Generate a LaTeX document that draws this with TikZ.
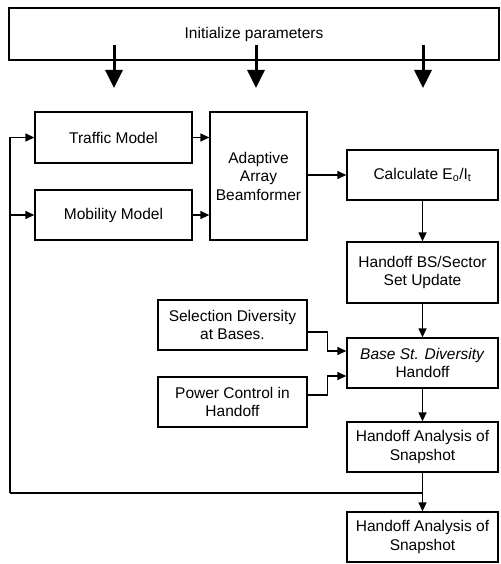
\documentclass[tikz,border=0pt]{standalone}
\usepackage{fontspec}
\setmainfont{Liberation Sans}
\usetikzlibrary{arrows.meta}
\begin{document}
\begin{tikzpicture}[x=1pt,y=-1pt,
  box/.style={draw, line width=1.3pt, inner sep=2pt, align=center,
    font=\fontsize{15.5}{18.5}\selectfont},
  arr/.style={line width=1.3pt, -{Triangle[length=9pt,width=8pt]}},
  bigarr/.style={line width=3pt, -{Triangle[length=18pt,width=17pt]}},
  ln/.style={line width=1.3pt}]
\useasboundingbox (0,0) rectangle (500,564);
\node[box, minimum width=490pt, minimum height=52pt] (init) at (254,34) {Initialize parameters};
\node[box, minimum width=157pt, minimum height=51pt] (traffic) at (113.5,137.5) {Traffic Model};
\node[box, minimum width=157pt, minimum height=50pt] (mobility) at (113.5,215) {Mobility Model};
\node[box, minimum width=97pt, minimum height=128pt] (beam) at (258.5,176) {Adaptive\\Array\\Beamformer};
\node[box, minimum width=151pt, minimum height=50pt] (calc) at (422.5,175) {Calculate E\textsubscript{o}/I\textsubscript{t}};
\node[box, minimum width=151pt, minimum height=61pt] (bsset) at (422.5,272.5) {Handoff BS/Sector\\Set Update};
\node[box, minimum width=151pt, minimum height=50pt] (base) at (422.5,363) {\textit{Base St. Diversity}\\Handoff};
\node[box, minimum width=151pt, minimum height=50pt] (ha1) at (422.5,447) {Handoff Analysis of\\Snapshot};
\node[box, minimum width=151pt, minimum height=50pt] (ha2) at (422.5,537) {Handoff Analysis of\\Snapshot};
\node[box, minimum width=149pt, minimum height=50pt] (sel) at (232.5,325) {Selection Diversity\\at Bases.};
\node[box, minimum width=149pt, minimum height=50pt] (pow) at (232.5,402) {Power Control in\\Handoff};
% big arrows from the top box
\coordinate (a1s) at (114,45); \coordinate (a1e) at (114,88);
\coordinate (a2s) at (256,45); \coordinate (a2e) at (256,88);
\coordinate (a3s) at (423,45); \coordinate (a3e) at (423,88);
\draw[bigarr] (a1s) -- (a1e);
\draw[bigarr] (a2s) -- (a2e);
\draw[bigarr] (a3s) -- (a3e);
% flow
\draw[arr] (traffic.east) -- (traffic.east -| beam.west);
\draw[arr] (mobility.east) -- (mobility.east -| beam.west);
\draw[arr] (beam.east |- calc.west) -- (calc.west);
\draw[arr] (calc.south) -- (bsset.north);
\draw[arr] (bsset.south) -- (base.north);
\draw[arr] (base.south) -- (ha1.north);
\draw[arr] (ha1.south) -- (ha2.north);
\draw[arr] ([yshift=-7pt]sel.east) -- ++(20,0) |- ([yshift=12pt]base.west);
\draw[arr] ([yshift=7pt]pow.east) -- ++(20,0) |- ([yshift=-13pt]base.west);
% feedback loop
\coordinate (fbj) at (ha1.south |- 0,493);
\coordinate (fbl) at (10,493);
\draw[ln] (fbj) -- (fbl);
\draw[arr] (fbl) |- (traffic.west);
\draw[arr] (fbl |- mobility.west) -- (mobility.west);
\end{tikzpicture}
\end{document}
